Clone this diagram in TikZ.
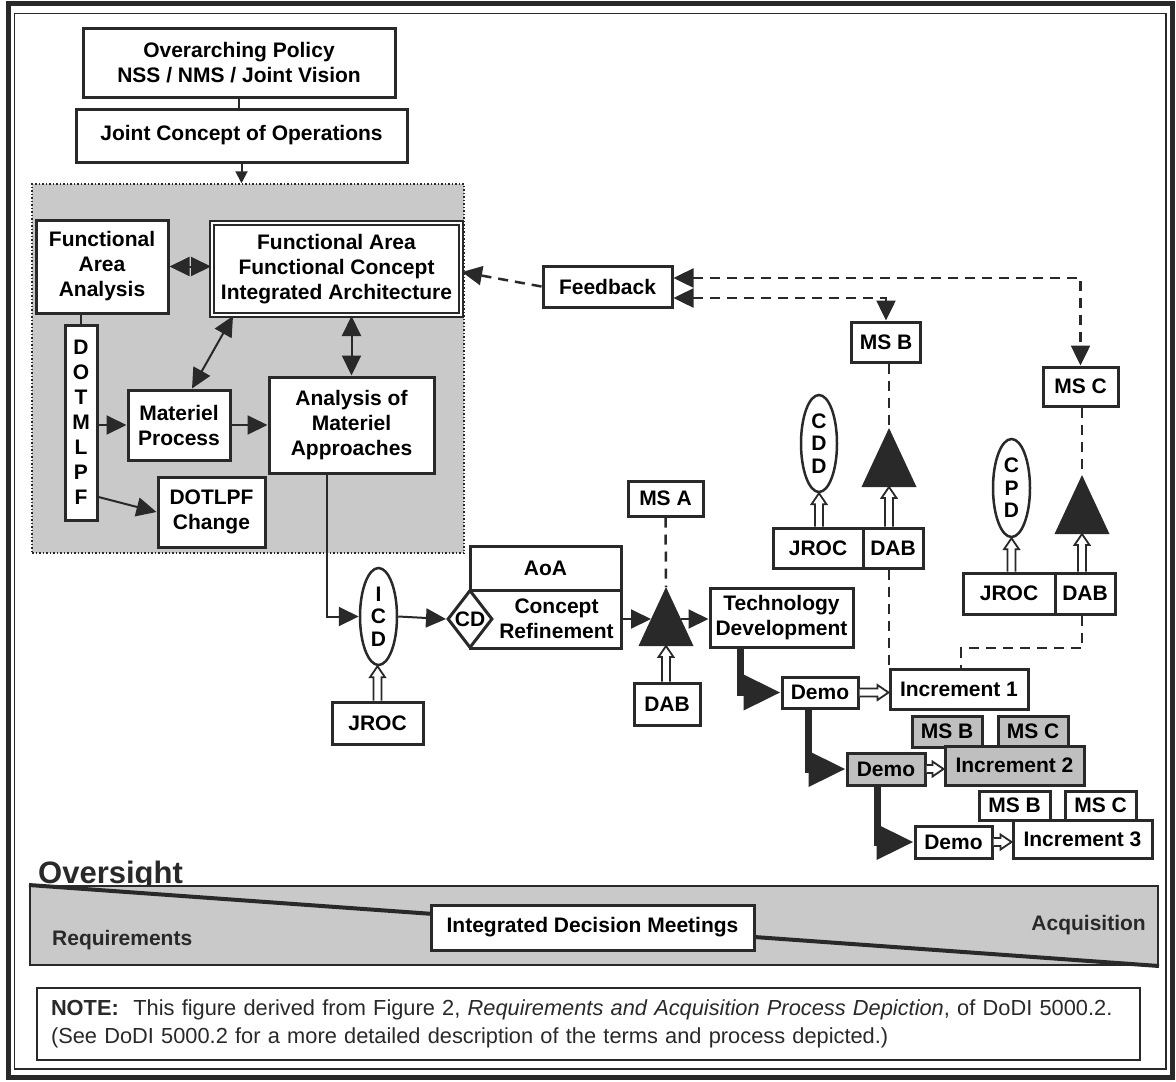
\documentclass[tikz,border=0pt]{standalone}
\usepackage{fontspec}
\setmainfont{Liberation Sans}
\usetikzlibrary{arrows.meta,shapes.geometric,calc}

\definecolor{ink}{gray}{0.16}
\definecolor{zonegray}{gray}{0.79}
\definecolor{boxgray}{gray}{0.75}

\newcommand\hollowup[2]{%
  \draw[hollow] let \p1=(#1), \p2=(#2) in
    (\x1-4pt,\y1) -- (\x1-4pt,\y2-11pt) -- (\x1-7.5pt,\y2-11pt) -- (\x1,\y2)
    -- (\x1+7.5pt,\y2-11pt) -- (\x1+4pt,\y2-11pt) -- (\x1+4pt,\y1);}
\newcommand\hollowright[2]{%
  \draw[hollow] let \p1=(#1), \p2=(#2) in
    (\x1,\y1+4pt) -- (\x2-11pt,\y1+4pt) -- (\x2-11pt,\y1+7.5pt) -- (\x2,\y1)
    -- (\x2-11pt,\y1-7.5pt) -- (\x2-11pt,\y1-4pt) -- (\x1,\y1-4pt);}
\newcommand\milestone[3]{%
  \coordinate (#1) at (#2,#3);
  \coordinate (#1base) at (#2,#3+59);
  \coordinate (#1in) at (#2-15,#3+32);
  \coordinate (#1out) at (#2+15,#3+32);
  \fill[ink] (#1) -- ++(-27.5,59) -- ++(55,0) -- cycle;}

\begin{document}
\begin{tikzpicture}[x=1pt,y=-1pt,
  box/.style={draw=ink,line width=3pt,fill=white,inner sep=0pt,align=center,
    font=\fontsize{21}{25}\selectfont\bfseries},
  graybox/.style={box,fill=boxgray},
  doc/.style={ellipse,draw=ink,line width=2.5pt,fill=white,inner sep=0pt,align=center,
    font=\fontsize{21}{22.5}\selectfont\bfseries},
  >={Triangle[length=20pt,width=19pt]},
  flow/.style={ink,line width=2pt,->},
  twoway/.style={ink,line width=2pt,<->},
  dashline/.style={draw=ink,line width=2.5pt,dash pattern=on 10pt off 7pt},
  demoflow/.style={draw=ink,line width=7pt,-{Triangle[length=37pt,width=34pt]}},
  hollow/.style={draw=ink,line width=1.8pt,fill=white,line join=miter}]
\useasboundingbox (0,0) rectangle (1176,1082);
\draw[ink,line width=5pt] (8,3.5) rectangle (1172,1077.5);
\draw[ink,line width=1.5pt] (14.5,13.5) rectangle (1166,1069);

\node [box] (policy) at (239,62.5) [minimum width=312pt,minimum height=69pt] {Overarching Policy\\NSS / NMS / Joint Vision};
\node [box] (jco) at (241.5,135.5) [minimum width=331pt,minimum height=53pt] {Joint Concept of Operations};
\node [draw=ink,line width=1.5pt,dotted,fill=zonegray,minimum width=432pt,minimum height=369pt] (zone) at (248,368.5) {};
\node [box] (faa) at (102,266.5) [minimum width=132pt,minimum height=93pt] {Functional\\Area\\Analysis};
\node [box,double,double distance=2pt,line width=2pt] (fafc) at (336.5,269) [minimum width=249pt,minimum height=92pt] {Functional Area\\Functional Concept\\Integrated Architecture};
\node [box] (dotmlpf) at (81,422.5) [minimum width=32pt,minimum height=195pt] {D\\O\\T\\M\\L\\P\\F};
\node [box] (matproc) at (179,425) [minimum width=102pt,minimum height=70pt] {Materiel\\Process};
\node [box] (ama) at (351.5,425) [minimum width=165pt,minimum height=96pt] {Analysis of\\Materiel\\Approaches};
\node [box] (dotlpf) at (211.5,512) [minimum width=107pt,minimum height=70pt] {DOTLPF\\Change};

\node [doc] (icd) at (378.5,616.5) [minimum width=37pt,minimum height=97pt] {I\\C\\D};
\node [box] (jroc1) at (377.5,723) [minimum width=91pt,minimum height=42pt] {JROC};
\node [box] (aoa) at (545.5,568) [minimum width=151pt,minimum height=44pt] {AoA};
\node [box] (cr) at (545.5,619) [minimum width=151pt,minimum height=58pt] {\hspace*{22pt}\parbox{115pt}{\centering Concept\\Refinement}};
\node [box,diamond,minimum width=45pt,minimum height=58pt] (cd) at (470,619) {\makebox[0pt]{CD}};
\node [box] (msA) at (665.5,498.5) [minimum width=75pt,minimum height=35pt] {MS A};
\milestone{msAtri}{666}{587}
\node [box] (dabA) at (667,704) [minimum width=66pt,minimum height=42pt] {DAB};
\node [box] (techdev) at (781.5,617.5) [minimum width=143pt,minimum height=59pt] {Technology\\Development};

\node [box] (feedback) at (607.5,286.5) [minimum width=129pt,minimum height=41pt] {Feedback};
\node [box] (msB) at (886,342) [minimum width=69pt,minimum height=40pt] {MS B};
\milestone{msBtri}{889}{428}
\node [doc] (cdd) at (819,443.5) [minimum width=36pt,minimum height=97pt] {C\\D\\D};
\node [box] (jroc2) at (818,548) [minimum width=90pt,minimum height=40pt] {JROC};
\node [box] (dab2) at (893,548) [minimum width=60pt,minimum height=40pt] {DAB};
\node [box] (msC) at (1080.5,386.5) [minimum width=75pt,minimum height=39pt] {MS C};
\milestone{msCtri}{1082}{475}
\node [doc] (cpd) at (1011.5,488) [minimum width=37pt,minimum height=98pt] {C\\P\\D};
\node [box] (jroc3) at (1009,593.5) [minimum width=92pt,minimum height=41pt] {JROC};
\node [box] (dab3) at (1085,593.5) [minimum width=60pt,minimum height=41pt] {DAB};

\node [box] (demo1) at (820,692.5) [minimum width=76pt,minimum height=31pt] {Demo};
\node [box] (inc1) at (959,689) [minimum width=138pt,minimum height=40pt] {Increment 1};
\node [graybox] (msB2) at (947,731.5) [minimum width=70pt,minimum height=31pt] {MS B};
\node [graybox] (msC2) at (1033,731.5) [minimum width=70pt,minimum height=31pt] {MS C};
\node [graybox] (demo2) at (886,769) [minimum width=78pt,minimum height=32pt] {Demo};
\node [graybox] (inc2) at (1014.5,765.5) [minimum width=139pt,minimum height=39pt] {Increment 2};
\node [box] (msB3) at (1014.5,805.5) [minimum width=71pt,minimum height=29pt] {MS B};
\node [box] (msC3) at (1100.5,805.5) [minimum width=71pt,minimum height=29pt] {MS C};
\node [box] (demo3) at (953.5,842) [minimum width=77pt,minimum height=32pt] {Demo};
\node [box] (inc3) at (1082.5,839) [minimum width=139pt,minimum height=38pt] {Increment 3};

\node [font=\fontsize{31}{31}\selectfont\bfseries,text=ink,anchor=base west,inner sep=0pt] (oversight) at (38,883) {Oversight};
\node [draw=ink,line width=2pt,fill=zonegray,minimum width=1128pt,minimum height=79pt,inner sep=0pt] (band) at (594,925.5) {};
\draw[ink,line width=4pt] (band.north west) -- (band.south east);
\node [box] (idm) at (592.5,927.5) [minimum width=323pt,minimum height=45pt] {Integrated Decision Meetings};
\node [font=\fontsize{21}{25}\selectfont\bfseries,text=ink,anchor=west,inner sep=0pt] (req) at (52,940) {Requirements};
\node [font=\fontsize{21}{25}\selectfont\bfseries,text=ink,anchor=east,inner sep=0pt] (acq) at (1146,925) {Acquisition};
\node [draw=ink,line width=2pt,fill=white,minimum height=72pt,text width=1075pt,inner xsep=14pt,align=left,
  font=\fontsize{21.8}{28}\selectfont,text=ink] (note) at (588.5,1024)
  {\textbf{NOTE:}\ \ This figure derived from Figure 2, \textit{Requirements and Acquisition Process Depiction}, of DoDI 5000.2.\\(See DoDI 5000.2 for a more detailed description of the terms and process depicted.)};

\draw[ink,line width=2pt] (policy.south) -- (policy.south |- jco.north);
\draw[flow,-{Triangle[length=12pt,width=12pt]}] (jco.south) -- (jco.south |- zone.north);
\path[twoway] (faa.east) edge (faa.east -| fafc.west)
  ([xshift=13pt]matproc.north) edge ([xshift=-103.5pt]fafc.south)
  (ama.north |- fafc.south) edge (ama.north);
\draw[ink,line width=2pt] (dotmlpf.north |- faa.south) -- (dotmlpf.north);
\path[flow] (dotmlpf.east |- matproc.west) edge (matproc.west)
  ([yshift=-74.5pt]dotmlpf.east) edge (dotlpf.west)
  (matproc.east) edge (ama.west);

\draw[flow] ([xshift=-24.5pt]ama.south) |- (icd.west);
\path[flow] (icd.east) edge (cd.west)
  (cr.east) edge (msAtriin)
  (msAtriout) edge (techdev.west |- msAtriout);
\hollowup{jroc1.north}{icd.south}
\draw[dashline] (msA.south) -- (msAtri);
\hollowup{msAtribase |- dabA.north}{msAtribase}

\draw[dashline,->] (feedback.west) -- ([yshift=-3pt]fafc.east);
\draw[dashline,<->] ([yshift=8.5pt]feedback.east) -| (msC.north);
\draw[dashline,<->] ([yshift=-11.5pt]feedback.east) -| (msB.north);
\draw[dashline] (msB.south -| msBtri) -- (msBtri);
\hollowup{cdd.south |- jroc2.north}{cdd.south}
\hollowup{msBtribase |- dab2.north}{msBtribase}
\draw[dashline] (msBtri |- dab2.south) -- (msBtri |- inc1.north);
\draw[dashline] (msC.south -| msCtri) -- (msCtri);
\hollowup{cpd.south |- jroc3.north}{cpd.south}
\hollowup{msCtribase |- dab3.north}{msCtribase}
\coordinate (bend) at (961,648);
\draw[dashline] (msCtri |- dab3.south) |- (bend) -- (bend |- inc1.north);

\draw[demoflow] ([xshift=-41.5pt]techdev.south) |- (demo1.west);
\draw[demoflow] ([xshift=-12pt]demo1.south) |- (demo2.west);
\draw[demoflow] ([xshift=-9pt]demo2.south) |- (demo3.west);
\hollowright{demo1.east}{demo1.east -| inc1.west}
\hollowright{demo2.east}{demo2.east -| inc2.west}
\hollowright{demo3.east}{demo3.east -| inc3.west}
\end{tikzpicture}
\end{document}
